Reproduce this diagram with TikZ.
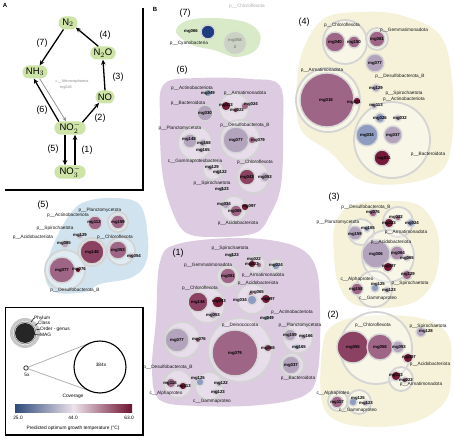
\documentclass[tikz,border=0pt]{standalone}
\usepackage{fontspec}
\setmainfont{Liberation Sans}
\usetikzlibrary{arrows.meta,shapes.misc}
\pgfdeclarelayer{blobs}
\pgfdeclarelayer{rings}
\pgfdeclarelayer{mags}
\pgfsetlayers{blobs,rings,mags,main}
\definecolor{nodeG}{HTML}{CDE4A6}
\definecolor{blobG}{HTML}{D9EAC9}
\definecolor{blobP}{HTML}{DCCBE1}
\definecolor{blobY}{HTML}{F5F2D9}
\definecolor{blobB}{HTML}{D0E3EE}
\definecolor{mauve}{HTML}{9E6586}
\definecolor{mauveD}{HTML}{8B4262}
\definecolor{dred}{HTML}{741A38}
\definecolor{lav}{HTML}{B3A3BD}
\definecolor{lavM}{HTML}{AD8EAC}
\definecolor{bgray}{HTML}{8E9CC2}
\definecolor{navy}{HTML}{1F3C80}
\definecolor{cbL}{HTML}{2E4A7C}
\definecolor{cbM}{HTML}{ECE2EA}
\definecolor{cbR}{HTML}{6E1230}
\tikzset{
 ring/.style={draw=black!17, line width=1.8pt, fill=white, fill opacity=0.35},
 magc/.style={draw=black!16, line width=1.4pt},
 tx/.style={font=\fontsize{4.7}{5}\selectfont, text=black!90, inner sep=0pt},
 mgl/.style={font=\bfseries\fontsize{4.3}{5}\selectfont, inner sep=0pt},
 glab/.style={font=\fontsize{9}{10}\selectfont, inner sep=0pt},
 panel/.style={font=\bfseries\fontsize{6}{7}\selectfont, inner sep=0pt},
 chem/.style={rounded rectangle, fill=nodeG, font=\fontsize{9.5}{10}\selectfont, minimum height=13pt, minimum width=23pt, inner xsep=2pt, inner ysep=1pt},
 rx/.style={-{Stealth[length=5pt,width=4.5pt]}, line width=1.3pt},
 lgt/.style={font=\fontsize{4.8}{5}\selectfont, inner sep=0pt},
}
\newcommand{\Mc}[4]{\begin{pgfonlayer}{mags}\draw[magc,fill=#4] (#1,#2) circle (#3pt);\end{pgfonlayer}}
\newcommand{\Rg}[3]{\begin{pgfonlayer}{rings}\draw[ring] (#1,#2) circle (#3pt);\end{pgfonlayer}}
\newcommand{\Blob}[2]{\begin{pgfonlayer}{blobs}\fill[#1] plot[smooth cycle, tension=0.6] coordinates {#2};\end{pgfonlayer}}
\begin{document}
\begin{tikzpicture}[x=1pt,y=-1pt]
\useasboundingbox (0,0) rectangle (454,443);
\begin{pgfonlayer}{blobs}\fill[white] (0,0) rectangle (454,443);\end{pgfonlayer}
% ================= Panel A =================
\node[panel] (lA) at (5,5) {A};
\draw[line width=1.2pt] (143,8) -- (143,190) -- (5,190);
\node[chem] (n2) at (68,23) {N$_2$};
\node[chem] (n2o) at (103,53) {N$_2$O};
\node[chem] (no) at (105,97) {NO};
\node[chem] (nh3) at (35,72) {NH$_3$};
\node[chem] (no2) at (70,128) {NO$_2^-$};
\node[chem] (no3) at (70,172) {NO$_3^-$};
\draw[rx] (n2.235) -- (nh3.55);
\draw[rx] (n2o.125) -- (n2.-30);
\draw[rx] (no.north) -- (n2o.south);
\draw[rx] (no2.25) -- (no.-135);
\draw[rx] (no2.150) -- (nh3.-100);
\draw[-{Stealth[length=4pt,width=3.5pt]}, line width=0.7pt, black!45] (nh3.-55) -- (no2.120);
\draw[rx] ([xshift=-5pt]no2.south) -- ([xshift=-5pt]no3.north);
\draw[rx] ([xshift=5pt]no3.north) -- ([xshift=5pt]no2.south);
\node[glab] (l7) at (42,43) {(7)};
\node[glab] (l4) at (105,35) {(4)};
\node[glab] (l3) at (118,77) {(3)};
\node[glab] (l2) at (100,118) {(2)};
\node[glab] (l6) at (42,110) {(6)};
\node[glab] (l5) at (53,149) {(5)};
\node[glab] (l1) at (87,150) {(1)};
\node[tx, text=black!45, font=\fontsize{3.8}{4}\selectfont] (nit) at (72,82) {c\_\_Nitrososphaeria};
\node[tx, text=black!45, font=\fontsize{3.8}{4}\selectfont] (nitm) at (66,88) {mg046};
% ================= Panel B =================
\node[panel] (lB) at (155,9) {B};
% ---- group 7
\Blob{blobG}{(176,32) (186,21) (212,18) (245,22) (260,34) (256,50) (236,57) (214,50) (192,45)}
\node[glab] (g7) at (185,13) {(7)};
\Mc{208}{32}{7}{navy}
\node[mgl] at (191,31) {mg066};
\node[tx] at (189,43) {p\_\_Cyanobacteria};
\draw[magc, fill=lav, opacity=0.35] (235,43) circle (11pt);
\node[mgl, opacity=0.35] at (235,40) {mg058};
\node[mgl, opacity=0.35] at (235,47) {2};
\node[tx, opacity=0.35] at (247,6) {p\_\_Chloroflexota};
% ---- group 6
\Blob{blobP}{(164,84) (200,78) (250,79) (280,86) (283,130) (281,185) (270,215) (255,233) (215,237) (185,232) (170,205) (162,170) (160,120)}
\node[glab] (g6) at (182,70) {(6)};
\node[tx] at (192,88) {p\_\_Actinobacteriota};
\Mc{208}{93}{4}{bgray}
\node[mgl] at (208,93) {mg049};
\node[tx] at (245,93) {p\_\_Armatimonadota};
\node[tx] at (188,103) {p\_\_Bacteroidota};
\Mc{205}{113}{8}{lav}
\node[mgl] at (205,113) {mg030};
\Rg{234}{108}{15}
\Mc{226}{106}{5}{dred}
\Mc{236}{110}{3}{mauve}
\Mc{245}{106}{4}{mauve}
\node[mgl] at (226,105) {mg023};
\node[mgl] at (237,110) {mg022};
\node[mgl] at (251,104) {mg024};
\node[tx] at (245,125) {p\_\_Desulfobacterota\_B};
\node[tx] at (180,128) {p\_\_Planctomycetota};
\Rg{195}{143}{17}
\Mc{190}{141}{7}{lav}
\Mc{203}{143}{4}{lav}
\Mc{201}{150}{3}{lav}
\node[mgl] at (189,139) {mg148};
\node[mgl] at (204,143) {mg168};
\node[mgl] at (203,150) {mg165};
\Rg{240}{140}{20}
\Mc{236}{140}{13}{lav}
\Mc{252}{140}{4}{mauve}
\node[mgl] at (236,140) {mg077};
\node[mgl] at (258,140) {mg079};
\node[tx] at (195,161) {c\_\_Gammaproteobacteria};
\node[tx] at (255,162) {p\_\_Chloroflexota};
\Rg{213}{170}{10}
\Mc{210}{168}{3}{lav}
\Mc{218}{172}{3}{lav}
\node[mgl] at (212,167) {mg129};
\node[mgl] at (220,172) {mg122};
\Rg{253}{177}{16}
\Mc{247}{177}{8}{mauveD}
\Mc{265}{177}{5}{lav}
\node[mgl] at (247,177) {mg043};
\node[mgl] at (265,177) {mg053};
\node[tx] at (212,183) {p\_\_Spirochaetota};
\Mc{222}{189}{3}{lav}
\node[mgl] at (222,189) {mg123};
\Rg{234}{209}{13}
\Mc{226}{205}{4}{lav}
\Mc{236}{211}{6}{mauve}
\Mc{245}{207}{4}{dred}
\node[mgl] at (224,204) {mg034};
\node[mgl] at (249,206) {mg097};
\node[mgl] at (235,211) {mg065};
\node[tx] at (238,223) {p\_\_Acidobacteriota};
% ---- group 4
\Blob{blobY}{(297,80) (305,45) (325,18) (360,12) (400,15) (440,35) (452,80) (452,140) (440,172) (400,184) (360,180) (330,152) (300,128)}
\node[glab] (g4) at (304,22) {(4)};
\node[tx] at (342,25) {p\_\_Chloroflexota};
\Rg{345}{42}{22}
\Mc{335}{42}{10}{mauve}
\Mc{354}{42}{6}{mauve}
\node[mgl] at (335,42) {mg040};
\node[mgl] at (354,42) {mg150};
\node[tx] at (404,30) {p\_\_Gemmatimonadota};
\Rg{377}{39}{11}
\Mc{377}{39}{8}{mauve}
\node[mgl] at (377,39) {mg081};
\Mc{375}{63}{9}{lav}
\node[mgl] at (375,63) {mg077};
\node[tx] at (400,76) {p\_\_Desulfobacterota\_B};
\node[tx] at (322,70) {p\_\_Armatimonadota};
\Rg{328}{100}{32}
\Mc{327}{100}{27}{mauve}
\Mc{357}{101}{4}{dred}
\node[mgl] at (326,100) {mg018};
\node[mgl] at (354,102) {mg021};
\Mc{376}{88}{4}{lav}
\node[mgl] at (376,88) {mg129};
\node[tx] at (404,93) {p\_\_Spirochaetota};
\node[tx] at (404,99) {p\_\_Actinobacteriota};
\Mc{374}{106}{3}{lav}
\node[mgl] at (376,105) {mg113};
\Rg{392}{140}{38}
\Mc{380}{118}{5}{bgray}
\Mc{398}{118}{3}{lav}
\Mc{367}{135}{11}{bgray}
\Mc{393}{135}{9}{lav}
\Mc{382}{158}{8}{dred}
\node[mgl] at (380,118) {mg026};
\node[mgl] at (400,118) {mg032};
\node[mgl] at (367,135) {mg034};
\node[mgl] at (393,135) {mg037};
\node[mgl] at (384,158) {mg011};
\node[tx] at (428,154) {p\_\_Bacteroidota};
% ---- group 3
\Blob{blobY}{(335,225) (350,206) (385,201) (420,206) (438,235) (436,275) (418,300) (385,308) (352,303) (338,282) (334,255)}
\node[glab] (g3) at (334,197) {(3)};
\node[tx] at (366,207) {p\_\_Desulfobacterota\_B};
\Mc{373}{213}{4}{mauve}
\node[mgl] at (373,212) {mg076};
\node[tx] at (338,222) {p\_\_Planctomycetota};
\Rg{398}{222}{15}
\Mc{389}{223}{5}{dred}
\Mc{398}{218}{3}{mauve}
\Mc{411}{223}{4}{bgray}
\node[mgl] at (396,217) {mg022};
\node[mgl] at (389,223) {mg023};
\node[mgl] at (412,223) {mg024};
\node[tx] at (406,232) {p\_\_Armatimonadota};
\Rg{361}{232}{13}
\Mc{355}{233}{7}{lav}
\Mc{367}{229}{3}{bgray}
\node[mgl] at (355,234) {mg159};
\node[mgl] at (368,228) {mg165};
\node[tx] at (391,242) {p\_\_Acidobacteriota};
\Rg{388}{256}{26}
\Mc{376}{254}{14}{lav}
\Mc{397}{253}{7}{lavM}
\Mc{407}{258}{3}{lav}
\Mc{388}{267}{5}{dred}
\node[mgl] at (376,254) {mg006};
\node[mgl] at (398,253) {mg064};
\node[mgl] at (407,258) {mg065};
\node[mgl] at (389,266) {mg097};
\Mc{407}{275}{5}{mauve}
\node[mgl] at (408,274) {mg129};
\node[tx] at (357,279) {c\_\_Alphaproteo};
\node[tx] at (410,283) {p\_\_Spirochaetota};
\Rg{374}{289}{18}
\Mc{357}{289}{6}{mauve}
\Mc{375}{288}{4}{bgray}
\Mc{387}{290}{3}{lav}
\node[mgl] at (356,289) {mg158};
\node[mgl] at (378,284) {mg125};
\node[mgl] at (389,290) {mg123};
\node[tx] at (378,298) {c\_\_Gammaproteo};
% ---- group 2
\Blob{blobY}{(322,350) (332,326) (365,316) (420,318) (448,335) (451,370) (446,400) (420,420) (380,427) (340,422) (322,402)}
\node[glab] (g2) at (333,315) {(2)};
\node[tx] at (373,325) {p\_\_Chloroflexota};
\node[tx] at (428,326) {p\_\_Spirochaetota};
\Mc{421}{332}{5}{lav}
\node[mgl] at (426,331) {mg128};
\Rg{376}{348}{36}
\Mc{353}{347}{16}{mauveD}
\Mc{380}{347}{13}{mauve}
\Mc{398}{347}{6}{lav}
\node[mgl] at (353,347) {mg055};
\node[mgl] at (380,347) {mg058};
\node[mgl] at (399,347) {mg053};
\Mc{408}{358}{5}{dred}
\node[mgl] at (409,357) {mg097};
\node[tx] at (430,364) {p\_\_Acidobacteriota};
\Rg{401}{379}{12}
\Mc{396}{376}{5}{dred}
\Mc{405}{380}{3}{mauve}
\node[mgl] at (396,375) {mg023};
\node[mgl] at (406,380) {mg022};
\node[tx] at (421,384) {p\_\_Armatimonadota};
\node[tx] at (333,393) {c\_\_Alphaproteo};
\Rg{338}{401}{10}
\Mc{337}{402}{6}{mauve}
\node[mgl] at (337,402) {mg117};
\Rg{359}{402}{12}
\Mc{353}{402}{4}{bgray}
\Mc{366}{403}{3}{lav}
\node[mgl] at (358,398) {mg125};
\node[mgl] at (366,403) {mg123};
\node[tx] at (358,410) {c\_\_Gammaproteo};
% ---- group 1
\Blob{blobP}{(160,262) (178,244) (240,238) (292,245) (315,265) (320,310) (318,370) (305,395) (260,405) (200,406) (160,400) (152,370) (156,320)}
\node[glab] (g1) at (178,253) {(1)};
\node[tx] at (230,248) {p\_\_Spirochaetota};
\Mc{232}{255}{3}{lav}
\node[mgl] at (232,255) {mg123};
\node[tx] at (208,265) {p\_\_Gemmatimonadota};
\Rg{228}{276}{11}
\Mc{228}{276}{8}{mauve}
\node[mgl] at (228,276) {mg081};
\Rg{256}{264}{9}
\Mc{252}{264}{4}{dred}
\Mc{259}{265}{3}{mauve}
\node[mgl] at (254,259) {mg022};
\node[mgl] at (252,264) {mg023};
\Rg{276}{266}{7}
\Mc{276}{266}{4}{bgray}
\node[mgl] at (276,265) {mg024};
\node[tx] at (263,275) {p\_\_Armatimonadota};
\node[tx] at (258,283) {p\_\_Acidobacteriota};
\node[tx] at (200,288) {p\_\_Chloroflexota};
\Rg{207}{305}{18}
\Mc{198}{302}{10}{mauveD}
\Mc{218}{302}{6}{dred}
\Mc{213}{315}{4}{lav}
\node[mgl] at (198,302) {mg148};
\node[mgl] at (219,301) {mg043};
\node[mgl] at (213,315) {mg053};
\Rg{252}{299}{15}
\Mc{251}{294}{3}{mauve}
\Mc{252}{300}{5}{bgray}
\Mc{266}{299}{5}{dred}
\node[mgl] at (257,292) {mg065};
\node[mgl] at (240,300) {mg034};
\node[mgl] at (268,299) {mg097};
\node[tx] at (292,312) {p\_\_Actinobacteriota};
\Mc{267}{318}{3}{bgray}
\node[mgl] at (267,318) {mg049};
\node[tx] at (240,325) {p\_\_Deinococcota};
\node[tx] at (300,325) {p\_\_Planctomycetota};
\Rg{240}{350}{32}
\Mc{235}{353}{23}{mauve}
\Mc{268}{348}{4}{mauveD}
\node[mgl] at (235,353) {mg079};
\node[mgl] at (268,348) {mg068};
\Rg{182}{340}{18}
\Mc{177}{340}{12}{lav}
\Mc{198}{340}{3}{mauve}
\node[mgl] at (177,340) {mg077};
\node[mgl] at (199,339) {mg076};
\node[tx] at (168,367) {p\_\_Desulfobacterota\_B};
\Rg{298}{338}{15}
\Mc{290}{335}{6}{lav}
\Mc{303}{337}{3}{lav}
\Mc{297}{347}{3}{bgray}
\node[mgl] at (290,335) {mg159};
\node[mgl] at (306,336) {mg166};
\node[mgl] at (299,347) {mg165};
\Rg{292}{365}{12}
\Mc{291}{365}{9}{lav}
\node[mgl] at (291,365) {mg037};
\node[tx] at (298,378) {p\_\_Bacteroidota};
\Rg{178}{384}{14}
\Mc{171}{383}{5}{mauve}
\Mc{183}{386}{4}{dred}
\node[mgl] at (170,383) {mg116};
\node[mgl] at (184,386) {mg113};
\Rg{209}{386}{14}
\Mc{200}{382}{4}{bgray}
\Mc{219}{384}{3}{lav}
\Mc{216}{392}{3}{lav}
\node[mgl] at (198,378) {mg125};
\node[mgl] at (221,383) {mg122};
\node[mgl] at (218,392) {mg123};
\node[tx] at (166,393) {c\_\_Alphaproteo};
\node[tx] at (212,401) {c\_\_Gammaproteo};
% ---- group 5
\Blob{blobB}{(52,248) (66,220) (82,203) (112,198) (140,205) (148,240) (145,265) (130,278) (100,284) (85,292) (55,292) (45,275)}
\node[glab] (g5) at (43,205) {(5)};
\node[tx] at (100,210) {p\_\_Planctomycetota};
\node[tx] at (68,215) {p\_\_Actinobacteriota};
\Mc{95}{223}{7}{mauve}
\node[mgl] at (94,222) {mg112};
\Rg{118}{222}{10}
\Mc{118}{222}{7}{mauve}
\node[mgl] at (118,222) {mg159};
\node[tx] at (55,228) {p\_\_Spirochaetota};
\node[tx] at (33,237) {p\_\_Acidobacteriota};
\Mc{80}{236}{3}{lav}
\node[mgl] at (80,235) {mg129};
\Mc{65}{244}{4}{lav}
\node[mgl] at (64,243) {mg085};
\node[tx] at (115,237) {p\_\_Chloroflexota};
\Rg{92}{252}{14}
\Mc{92}{252}{12}{mauveD}
\node[mgl] at (92,252) {mg148};
\Rg{121}{251}{14}
\Mc{118}{250}{9}{mauve}
\Mc{131}{256}{3}{lav}
\node[mgl] at (118,250) {mg053};
\node[mgl] at (134,256) {mg054};
\Rg{65}{270}{20}
\Mc{62}{270}{13}{mauve}
\Mc{78}{270}{3}{dred}
\node[mgl] at (62,270) {mg077};
\node[mgl] at (79,269) {mg076};
\node[tx] at (75,290) {p\_\_Desulfobacterota\_B};
% ================= Legend =================
\draw[line width=0.6pt] (5,307) rectangle (143,435);
\draw[line width=1.1pt] (143,307) -- (143,435) -- (5,435);
\draw[black!22, line width=3pt] (25,333) circle (13.5pt);
\draw[black!45, line width=0.8pt] (25,333) circle (11pt);
\fill[black!85] (25,333) circle (10pt);
\node[lgt, anchor=west] (lph) at (34,318) {Phylum};
\node[lgt, anchor=west] (lcl) at (38,323) {Class};
\node[lgt, anchor=west] (lor) at (40,329) {Order - genus};
\node[lgt, anchor=west] (lmg) at (40,335) {MAG};
\draw[line width=0.5pt] (lph.west) -- (31,322);
\draw[line width=0.5pt] (lcl.west) -- (35,325.5);
\draw[line width=0.5pt] (lor.west) -- (36,330);
\draw[line width=0.5pt] (lmg.west) -- (34.5,334.5);
\coordinate (sc) at (26,368);
\coordinate (tt) at (90.9,342.7);
\coordinate (tb) at (90.9,391.3);
\draw[black!30, line width=0.8pt] (sc) -- (tt);
\draw[black!30, line width=0.8pt] (sc) -- (tb);
\draw[line width=1.1pt] (100,367) circle (26pt);
\draw[draw=black!75, fill=white, line width=0.8pt] (sc) circle (2.2pt);
\node[lgt] (l5x) at (27,375) {5x};
\node[lgt] (l384) at (101,365) {384x};
\node[lgt] (lcov) at (73,396) {Coverage};
\shade[left color=cbL, right color=cbM] (15,404) rectangle (73.6,412);
\shade[left color=cbM, right color=cbR] (73.5,404) rectangle (132,412);
\node[lgt] (t25) at (18,418) {25.0};
\node[lgt] (t44) at (73,418) {44.0};
\node[lgt] (t63) at (129,418) {63.0};
\node[lgt] (cap) at (73,428) {Predicted optimum growth temperature (°C)};
\end{tikzpicture}
\end{document}
